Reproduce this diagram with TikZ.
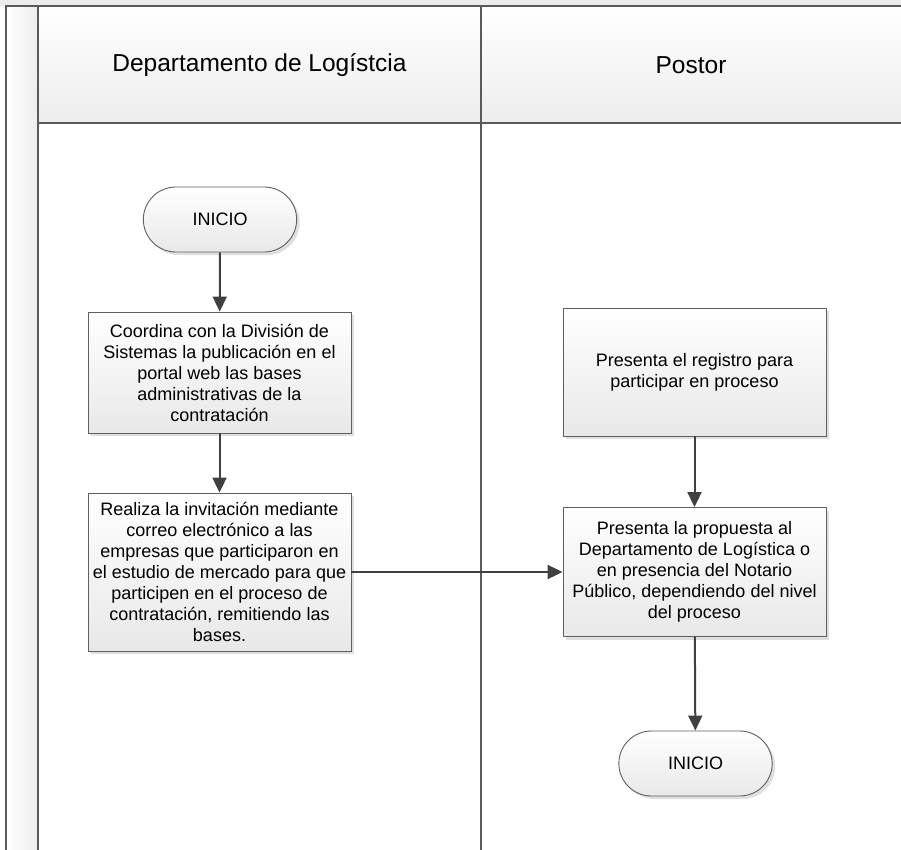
\documentclass[tikz,border=0pt]{standalone}
\usepackage{fontspec}
\setmainfont{Liberation Sans}
\usetikzlibrary{arrows.meta,shapes.misc,shadows}
\definecolor{lanecol}{HTML}{5A5A5A}
\definecolor{arrcol}{HTML}{404040}
\definecolor{shapeline}{HTML}{606060}
\definecolor{fillbot}{HTML}{E8E8E8}
\definecolor{bandgray}{HTML}{EDEDED}
\tikzset{
  lane/.style={draw=lanecol, line width=2pt},
  procbox/.style={rectangle, draw=shapeline, line width=0.9pt, top color=white, bottom color=fillbot,
    minimum width=263pt, align=center, font=\fontsize{18}{21}\selectfont,
    drop shadow={shadow xshift=3pt, shadow yshift=-3pt, opacity=0.25, fill=gray}},
  termbox/.style={rounded rectangle, draw=shapeline, line width=0.9pt, top color=white, bottom color=fillbot,
    minimum width=160pt, minimum height=65pt, font=\fontsize{18}{21}\selectfont,
    drop shadow={shadow xshift=3pt, shadow yshift=-3pt, opacity=0.25, fill=gray}},
  flow/.style={draw=arrcol, line width=2pt, -{Triangle[length=15pt,width=14pt]}},
  headtext/.style={font=\fontsize{24.5}{28}\selectfont}
}
\begin{document}
\begin{tikzpicture}[x=1pt,y=-1pt]
\useasboundingbox (0,0) rectangle (901,850);
\fill[bandgray] (0,0) rectangle (901,6);
\shade[left color=white, right color=bandgray] (6,6) rectangle (38,850);
\shade[top color=white, bottom color=bandgray] (38,6) rectangle (901,123);
\draw[lane] (5,6) -- (901,6);
\draw[lane] (6,6) -- (6,850);
\draw[lane] (38,6) -- (38,850);
\draw[lane] (38,123) -- (901,123);
\draw[lane] (481,6) -- (481,850);

\node[headtext] (h1) at (259.5,65) {Departamento de Logístcia};
\node[headtext] (h2) at (691,65) {Postor};

\node[termbox] (ini1) at (220,219.5) {INICIO};
\node[procbox, minimum height=121pt] (b1) at (219.5,372.5) {Coordina con la División de\\Sistemas la publicación en el\\portal web las bases\\administrativas de la\\contratación};
\node[procbox, minimum height=158pt] (b2) at (219.5,572) {Realiza la invitación mediante\\correo electrónico a las\\empresas que participaron en\\el estudio de mercado para que\\participen en el proceso de\\contratación, remitiendo las\\bases.};
\node[procbox, minimum height=128pt] (b3) at (694.5,372) {Presenta el registro para\\participar en proceso};
\node[procbox, minimum height=129pt] (b4) at (694.5,572) {Presenta la propuesta al\\Departamento de Logística o\\en presencia del Notario\\Público, dependiendo del nivel\\del proceso};
\node[termbox] (ini2) at (695.5,763.5) {INICIO};

\draw[flow] (ini1) -- (b1);
\draw[flow] (b1) -- (b2);
\draw[flow] (b2) -- (b4);
\draw[flow] (b3) -- (b4);
\draw[flow] (b4) -- (ini2);
\end{tikzpicture}
\end{document}
